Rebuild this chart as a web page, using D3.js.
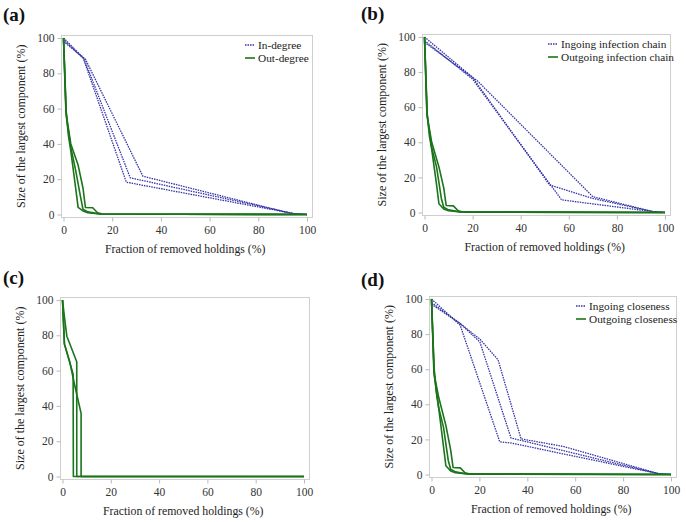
<!DOCTYPE html>
<html>
<head>
<meta charset="utf-8">
<script src="https://cdn.jsdelivr.net/npm/d3@7"></script>
<style>
  body { margin: 0; background: #fff; }
</style>
</head>
<body>
<svg id="chart" width="686" height="522"></svg>
<script>
// three replicate runs per strategy, [fraction removed %, size of largest component %]
const inDegree = [
  [[0, 100], [8, 89], [25.8, 18.3], [95, 0.4], [100, 0]],
  [[0, 99], [8.5, 88], [27.4, 20.8], [95, 0.4], [100, 0]],
  [[0, 98], [9, 88], [32.6, 21.7], [94, 0.4], [100, 0]]
];
const outDegree = [
  [[0, 100], [1, 60], [2, 45], [3, 36], [5, 15], [6, 4], [8, 2], [10, 1], [15, 0.3], [100, 0]],
  [[0, 100], [1.2, 55], [3, 38], [5, 25], [7, 10], [8, 3], [10, 1.5], [15, 0.3], [100, 0]],
  [[0, 100], [1, 58], [3, 40], [6, 28], [8, 15], [9, 4], [12, 3.8], [14, 1], [16, 0.3], [100, 0]]
];
const inChain = [
  [[0, 100], [20, 77], [52, 15.7], [70, 8], [95, 0.5], [100, 0]],
  [[0, 98], [20, 76], [57, 7.2], [95, 0.5], [100, 0]],
  [[0, 97], [22, 75], [70, 9], [95, 0.5], [100, 0]]
];
const outChain = [
  [[0, 100], [1, 58], [2, 44], [3, 36], [5, 16], [6, 5], [8, 2], [10, 1], [15, 0.3], [100, 0]],
  [[0, 100], [1.2, 54], [3, 37], [5, 26], [7, 8], [8, 3], [10, 1.5], [15, 0.3], [100, 0]],
  [[0, 100], [1, 56], [3, 40], [6, 26], [8, 14], [9, 4], [12, 3.8], [14, 1], [16, 0.3], [100, 0]]
];
const betweenness = [
  [[0, 100], [1, 88], [1.8, 79.5], [5.9, 65], [5.9, 0], [100, 0]],
  [[0, 100], [0.8, 75], [4.4, 58], [4.5, 0], [100, 0]],
  [[0, 100], [0.8, 75], [3, 65], [5, 52], [7.7, 35.8], [7.7, 0], [100, 0]]
];
const inCloseness = [
  [[0, 100], [12, 85], [28.5, 18.6], [33, 18], [95, 0.4], [100, 0]],
  [[0, 98], [12, 86], [20.2, 75.5], [33.2, 20.8], [95, 0.4], [100, 0]],
  [[0, 97], [12, 86], [20.3, 77], [27.8, 65.3], [37.4, 20.3], [55, 16], [95, 0.4], [100, 0]]
];
const outCloseness = [
  [[0, 100], [1, 62], [2, 47], [3, 38], [5, 16], [6, 5], [8, 2], [10, 1], [15, 0.3], [100, 0]],
  [[0, 100], [1.2, 56], [3, 38], [5, 27], [7, 8], [8, 3], [10, 1.5], [15, 0.3], [100, 0]],
  [[0, 100], [1, 58], [3, 44], [6, 28], [8, 14], [9, 4], [12, 3.8], [14, 1], [16, 0.3], [100, 0]]
];

const xTicks = [0, 20, 40, 60, 80, 100];
const yTicks = [0, 20, 40, 60, 80, 100];
const xTitle = "Fraction of removed holdings (%)";
const yTitle = "Size of the largest component (%)";

const blue = "#3333a6";
const green = "#1a741a";
const serif = "Liberation Serif";

const panels = [
  { tag: "(a)", box: [61, 35, 251, 182], tagPos: [3, 21], legendX: 245,
    series: [{ name: "In-degree", runs: inDegree, dotted: true }, { name: "Out-degree", runs: outDegree }] },
  { tag: "(b)", box: [422, 34, 248, 181], tagPos: [361, 20], legendX: 548,
    series: [{ name: "Ingoing infection chain", runs: inChain, dotted: true }, { name: "Outgoing infection chain", runs: outChain }] },
  { tag: "(c)", box: [60, 297, 249, 182], tagPos: [3, 284], legendX: null,
    series: [{ name: "", runs: betweenness }] },
  { tag: "(d)", box: [429, 296, 247, 181], tagPos: [361, 286], legendX: 576,
    series: [{ name: "Ingoing closeness", runs: inCloseness, dotted: true }, { name: "Outgoing closeness", runs: outCloseness }] }
];

const svg = d3.select("#chart");

panels.forEach(p => {
  const [left, top, w, h] = p.box;
  const g = svg.append("g").attr("font-family", serif);

  const x = d3.scaleLinear().domain([0, 100]).range([left + 2.5, left + w - 5]);
  const y = d3.scaleLinear().domain([0, 100]).range([top + h - 2.5, top + 3]);

  g.append("rect")
    .attr("x", left + 0.5).attr("y", top + 0.5)
    .attr("width", w).attr("height", h)
    .attr("fill", "none").attr("stroke", "#cfcfcf");

  const xAxis = g.append("g")
    .attr("transform", `translate(0,${top + h + 0.5})`)
    .call(d3.axisBottom(x).tickValues(xTicks).tickSize(4).tickPadding(4));
  const yAxis = g.append("g")
    .attr("transform", `translate(${left + 0.5},0)`)
    .call(d3.axisLeft(y).tickValues(yTicks).tickSize(4).tickPadding(3));
  [xAxis, yAxis].forEach(a => {
    a.attr("font-family", serif).attr("font-size", 11.5);
    a.select(".domain").remove();
    a.selectAll(".tick line").attr("stroke", "#bbb");
    a.selectAll(".tick text").attr("fill", "#333");
  });

  g.append("text")
    .attr("x", (x(0) + x(100)) / 2).attr("y", top + h + 36)
    .attr("text-anchor", "middle").attr("font-size", 11.8).attr("fill", "#222")
    .text(xTitle);
  g.append("text")
    .attr("transform", `translate(${left - 36},${(y(0) + y(100)) / 2}) rotate(-90)`)
    .attr("text-anchor", "middle").attr("font-size", 12).attr("fill", "#222")
    .text(yTitle);

  g.append("text")
    .attr("x", p.tagPos[0]).attr("y", p.tagPos[1])
    .attr("font-size", 19).attr("font-weight", "bold").attr("fill", "#111")
    .text(p.tag);

  const line = d3.line().x(d => x(d[0])).y(d => y(d[1]));

  p.series.forEach(s => {
    s.runs.forEach(run => {
      g.append("path")
        .datum(run)
        .attr("d", line)
        .attr("fill", "none")
        .attr("stroke", s.dotted ? blue : green)
        .attr("stroke-width", s.dotted ? 1.3 : 1.6)
        .attr("stroke-dasharray", s.dotted ? "1.5,1" : null)
        .attr("stroke-linejoin", "round");
    });
  });

  if (p.legendX !== null) {
    p.series.forEach((s, i) => {
      const ly = top + 10 + i * 13;
      g.append("line")
        .attr("x1", p.legendX).attr("x2", p.legendX + 10)
        .attr("y1", ly).attr("y2", ly)
        .attr("stroke", s.dotted ? blue : green)
        .attr("stroke-width", s.dotted ? 1.3 : 1.6)
        .attr("stroke-dasharray", s.dotted ? "1.5,1" : null);
      g.append("text")
        .attr("x", p.legendX + 13).attr("y", ly + 4)
        .attr("font-size", 11.3).attr("fill", "#222")
        .text(s.name);
    });
  }
});
</script>
</body>
</html>
